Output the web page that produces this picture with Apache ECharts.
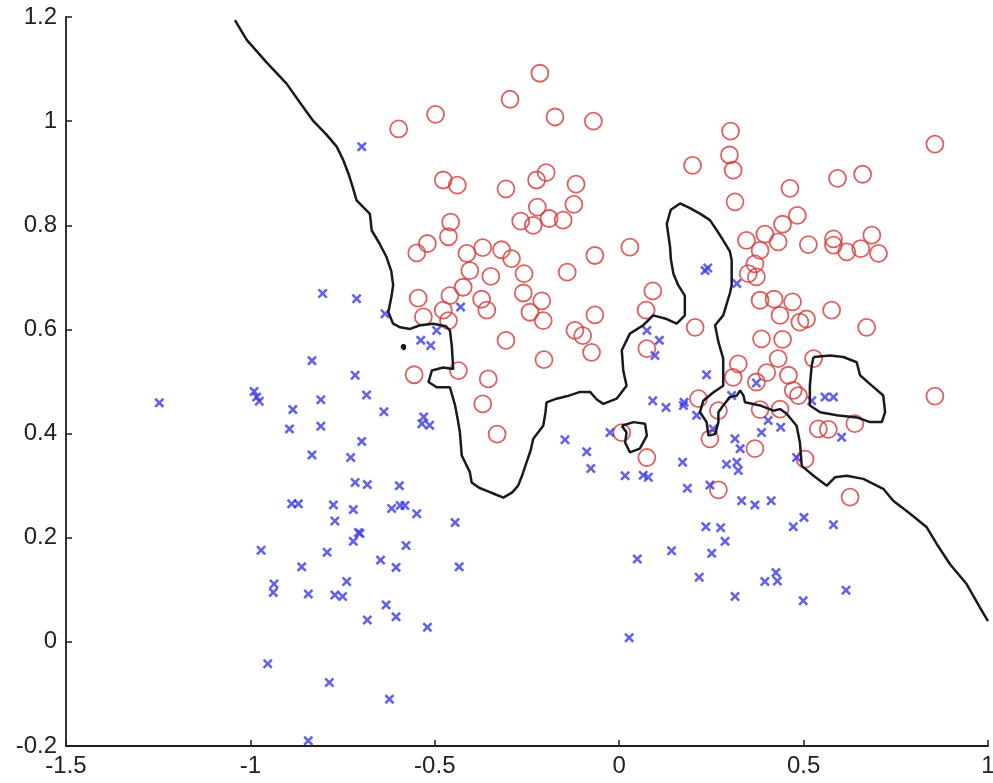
<!DOCTYPE html>
<html>
<head>
<meta charset="utf-8">
<script src="https://cdn.jsdelivr.net/npm/echarts@6/dist/echarts.min.js"></script>
<style>
  html, body { margin: 0; padding: 0; background: #fff; }
  #chart { width: 993px; height: 783px; }
</style>
</head>
<body>
<div id="chart"></div>
<script>
// ---- axis ticks ----
const xTicks = [-1.5, -1, -0.5, 0, 0.5, 1];
const yTicks = [-0.2, 0, 0.2, 0.4, 0.6, 0.8, 1, 1.2];

// ---- class 1: red circles ----
const redPoints = [
  [-0.215,1.092],[-0.296,1.042],[-0.498,1.013],[-0.598,0.985],[-0.174,1.008],[-0.070,1.000],[0.199,0.915],
  [-0.477,0.887],[-0.439,0.877],[-0.307,0.870],[-0.224,0.887],[-0.198,0.901],[-0.117,0.879],[-0.123,0.840],
  [-0.222,0.835],[-0.267,0.808],[-0.233,0.800],[-0.190,0.813],[-0.152,0.810],
  [-0.457,0.806],[-0.463,0.778],[-0.520,0.765],[-0.549,0.747],[-0.413,0.746],[-0.370,0.757],[-0.319,0.753],
  [-0.292,0.736],[-0.405,0.713],[-0.348,0.702],[-0.258,0.707],[-0.423,0.681],[-0.459,0.665],[-0.545,0.660],
  [-0.373,0.658],[-0.260,0.670],[-0.210,0.655],[-0.141,0.710],[-0.066,0.742],[0.029,0.758],[0.091,0.674],
  [-0.477,0.637],[-0.531,0.624],[-0.463,0.617],[-0.359,0.637],[-0.242,0.633],[-0.206,0.617],
  [-0.066,0.628],[-0.120,0.598],[-0.099,0.588],[-0.075,0.556],[-0.307,0.579],[-0.204,0.542],[-0.556,0.513],
  [-0.436,0.521],[-0.355,0.505],[-0.370,0.457],[-0.331,0.399],[0.073,0.637],[0.075,0.563],[0.206,0.604],
  [0.215,0.467],[0.007,0.402],[0.075,0.354],
  [0.302,0.981],[0.299,0.935],[0.309,0.906],[0.314,0.845],[0.856,0.956],[0.592,0.890],[0.660,0.898],
  [0.463,0.871],[0.483,0.819],[0.443,0.802],[0.431,0.768],[0.395,0.783],[0.345,0.771],[0.382,0.752],
  [0.368,0.726],[0.350,0.707],[0.372,0.701],[0.513,0.763],[0.581,0.774],[0.581,0.762],[0.617,0.749],
  [0.655,0.755],[0.685,0.781],[0.703,0.746],[0.382,0.656],[0.420,0.658],[0.470,0.653],
  [0.436,0.627],[0.490,0.614],[0.508,0.620],[0.576,0.637],[0.671,0.604],[0.386,0.582],[0.443,0.581],
  [0.431,0.544],[0.527,0.544],[0.323,0.534],[0.400,0.517],[0.459,0.512],[0.309,0.508],[0.372,0.499],
  [0.472,0.483],[0.486,0.473],[0.269,0.444],[0.382,0.446],[0.436,0.447],[0.246,0.390],[0.368,0.371],
  [0.540,0.409],[0.567,0.408],[0.639,0.419],[0.856,0.472],[0.504,0.351],[0.269,0.292],[0.626,0.278]
];

// ---- class 2: blue crosses ----
const bluePoints = [
  [-0.698,0.951],[-0.804,0.669],[-0.712,0.659],[-0.635,0.630],[-0.833,0.540],[-0.716,0.512],[-0.685,0.474],
  [-0.638,0.442],[-1.247,0.459],[-0.990,0.481],[-0.976,0.462],[-0.983,0.470],[-0.885,0.446],[-0.809,0.465],
  [-0.894,0.409],[-0.809,0.414],[-0.698,0.385],[-0.833,0.359],[-0.728,0.354],[-0.716,0.306],[-0.683,0.302],
  [-0.596,0.300],[-0.888,0.265],[-0.870,0.265],[-0.775,0.263],[-0.771,0.232],[-0.721,0.254],[-0.617,0.256],
  [-0.594,0.262],[-0.581,0.262],[-0.707,0.210],
  [-0.430,0.643],[-0.495,0.598],[-0.538,0.579],[-0.511,0.569],[-0.535,0.419],[-0.530,0.432],[-0.514,0.416],
  [-0.549,0.246],[-0.445,0.229],[-0.147,0.388],[-0.088,0.365],[-0.077,0.333],[-0.025,0.402],[0.016,0.319],
  [0.065,0.320],[0.079,0.316],[0.075,0.598],[0.109,0.579],[0.097,0.550],[0.091,0.463],[0.127,0.450],
  [0.174,0.454],[0.176,0.460],[0.172,0.345],[0.185,0.295],
  [0.233,0.713],[0.240,0.718],[0.319,0.688],[0.237,0.513],[0.372,0.497],[0.305,0.473],[0.210,0.435],
  [0.558,0.470],[0.581,0.470],[0.522,0.463],[0.404,0.425],[0.438,0.412],[0.386,0.402],[0.255,0.409],
  [0.314,0.390],[0.328,0.371],[0.291,0.341],[0.319,0.345],[0.323,0.329],[0.603,0.393],[0.481,0.354],
  [0.246,0.301],[0.332,0.271],[0.368,0.263],[0.412,0.271],[0.235,0.221],[0.275,0.219],[0.287,0.193],
  [0.251,0.170],[0.472,0.221],[0.501,0.239],[0.581,0.225],[0.217,0.124],[0.314,0.087],[0.395,0.116],
  [0.425,0.133],[0.429,0.117],[0.499,0.079],[0.615,0.099],
  [-0.703,0.208],[-0.721,0.193],[-0.971,0.176],[-0.792,0.172],[-0.647,0.157],[-0.605,0.143],[-0.861,0.144],
  [-0.739,0.116],[-0.936,0.111],[-0.938,0.095],[-0.843,0.092],[-0.771,0.090],[-0.750,0.087],[-0.632,0.071],
  [-0.605,0.048],[-0.683,0.042],[-0.953,-0.042],[-0.786,-0.078],[-0.623,-0.110],[-0.843,-0.190],
  [-0.578,0.185],[-0.434,0.144],[-0.520,0.028],[0.049,0.159],[0.142,0.175],[0.027,0.008]
];

// ---- decision boundary (main curve) ----
const boundaryMain = [
  [-1.042,1.194],[-1.010,1.156],[-0.955,1.112],[-0.902,1.072],[-0.860,1.030],[-0.829,1.000],[-0.795,0.975],
  [-0.766,0.951],[-0.748,0.925],[-0.734,0.899],[-0.722,0.872],[-0.712,0.848],[-0.690,0.832],[-0.676,0.822],
  [-0.671,0.790],[-0.650,0.765],[-0.631,0.739],[-0.618,0.712],[-0.613,0.685],[-0.617,0.665],[-0.626,0.633],
  [-0.613,0.611],[-0.594,0.604],[-0.567,0.601],[-0.540,0.608],[-0.504,0.611],[-0.470,0.606],[-0.459,0.598],
  [-0.454,0.569],[-0.450,0.524],[-0.477,0.527],[-0.508,0.521],[-0.517,0.499],[-0.495,0.489],[-0.459,0.489],
  [-0.445,0.454],[-0.438,0.428],[-0.432,0.403],[-0.427,0.358],[-0.405,0.326],[-0.400,0.306],[-0.380,0.296],
  [-0.359,0.290],[-0.335,0.283],[-0.314,0.277],[-0.290,0.287],[-0.274,0.300],[-0.262,0.322],[-0.251,0.345],
  [-0.240,0.368],[-0.233,0.390],[-0.206,0.415],[-0.200,0.440],[-0.197,0.460],[-0.170,0.467],[-0.140,0.472],
  [-0.106,0.480],[-0.079,0.480],[-0.060,0.465],[-0.043,0.457],[-0.007,0.467],[0.020,0.492],[0.011,0.521],
  [0.007,0.560],[0.029,0.592],[0.065,0.608],[0.092,0.627],[0.129,0.620],[0.156,0.611],[0.178,0.627],
  [0.178,0.665],[0.160,0.685],[0.147,0.707],[0.140,0.735],[0.138,0.758],[0.129,0.803],[0.140,0.830],
  [0.165,0.842],[0.192,0.833],[0.220,0.822],[0.246,0.810],[0.265,0.790],[0.282,0.771],[0.300,0.750],
  [0.305,0.733],[0.305,0.685],[0.300,0.669],[0.282,0.627],[0.260,0.608],[0.269,0.576],[0.282,0.544],
  [0.282,0.492],[0.255,0.479],[0.228,0.463],[0.219,0.441],[0.237,0.422],[0.242,0.396],[0.260,0.399],
  [0.269,0.422],[0.269,0.441],[0.282,0.454],[0.300,0.470],[0.319,0.473],[0.328,0.483],[0.337,0.473],
  [0.341,0.460],[0.382,0.454],[0.418,0.444],[0.436,0.447],[0.454,0.438],[0.481,0.415],[0.490,0.383],
  [0.495,0.338],[0.527,0.319],[0.563,0.300],[0.585,0.316],[0.617,0.319],[0.662,0.313],[0.716,0.294],
  [0.743,0.271],[0.789,0.246],[0.834,0.220],[0.861,0.188],[0.897,0.149],[0.942,0.111],[0.978,0.066],
  [1.000,0.040]
];

// ---- closed boundary islands ----
const boundaryIslandRight = [
  [0.527,0.547],[0.572,0.550],[0.608,0.547],[0.644,0.537],[0.653,0.512],[0.685,0.492],[0.716,0.473],
  [0.721,0.441],[0.712,0.422],[0.680,0.422],[0.644,0.431],[0.590,0.435],[0.545,0.441],[0.517,0.454],
  [0.517,0.492],[0.522,0.531],[0.527,0.547]
];
const boundaryIslandSmall = [
  [0.007,0.415],[0.039,0.422],[0.070,0.419],[0.075,0.396],[0.056,0.371],[0.029,0.364],[0.016,0.383],
  [0.020,0.402],[0.007,0.415]
];
const boundaryIslandDot = [
  [-0.588,0.563],[-0.582,0.563],[-0.582,0.569],[-0.588,0.569],[-0.588,0.563]
];

const crossPath = 'path://M0,1.8 L1.8,0 L5,3.2 L8.2,0 L10,1.8 L6.8,5 L10,8.2 L8.2,10 L5,6.8 L1.8,10 L0,8.2 L3.2,5 Z';

const chart = echarts.init(document.getElementById('chart'), null, { renderer: 'canvas' });

const axisCommon = {
  type: 'value',
  splitLine: { show: false },
  axisLine: { show: true, onZero: false, lineStyle: { color: '#1f1f1f', width: 1.8 } },
  axisTick: { show: true, inside: true, length: 6, lineStyle: { color: '#1f1f1f', width: 1.5 } },
  axisLabel: { color: '#222', fontSize: 24, fontFamily: 'Liberation Sans, Arial, sans-serif' }
};

function lineSeries(data) {
  return {
    type: 'line',
    data: data,
    showSymbol: false,
    symbol: 'none',
    smooth: false,
    clip: false,
    lineStyle: { color: '#1a1a1a', width: 2.5 },
    z: 5,
    silent: true,
    animation: false
  };
}

chart.setOption({
  animation: false,
  backgroundColor: '#ffffff',
  grid: { left: 66, right: 5, top: 17, bottom: 37, containLabel: false, outerBoundsMode: 'none' },
  xAxis: Object.assign({}, axisCommon, {
    min: xTicks[0], max: xTicks[xTicks.length - 1], interval: xTicks[1] - xTicks[0],
    axisLabel: Object.assign({}, axisCommon.axisLabel, { margin: 8, showMinLabel: true, showMaxLabel: true })
  }),
  yAxis: Object.assign({}, axisCommon, {
    min: yTicks[0], max: yTicks[yTicks.length - 1], interval: 0.2,
    axisLabel: Object.assign({}, axisCommon.axisLabel, { margin: 9, showMinLabel: true, showMaxLabel: true })
  }),
  series: [
    {
      type: 'scatter',
      data: redPoints,
      symbol: 'circle',
      symbolSize: 17,
      itemStyle: { color: 'rgba(255,255,255,0)', borderColor: '#d63a3a', borderWidth: 1.8 },
      z: 2
    },
    {
      type: 'scatter',
      data: bluePoints,
      symbol: crossPath,
      symbolSize: 10,
      itemStyle: { color: '#3a3ae6' },
      z: 3
    },
    lineSeries(boundaryMain),
    lineSeries(boundaryIslandRight),
    lineSeries(boundaryIslandSmall),
    Object.assign(lineSeries(boundaryIslandDot), { lineStyle: { color: '#1a1a1a', width: 3 } })
  ]
});
</script>
</body>
</html>
